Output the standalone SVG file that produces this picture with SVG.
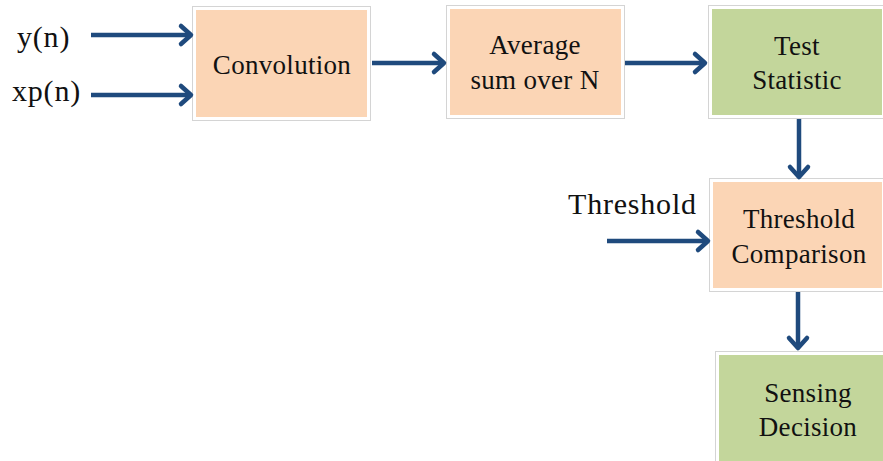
<svg xmlns="http://www.w3.org/2000/svg" width="883" height="461" viewBox="0 0 883 461">
<style>
.outer{fill:#ffffff;stroke:#d4d4d4;stroke-width:1}
.org{fill:#FBD5B5}
.grn{fill:#C3D69B}
.t{font-family:"Liberation Serif","Times New Roman",serif;font-size:27px;letter-spacing:0.3px;fill:#111;text-anchor:middle}
.lb{font-family:"Liberation Serif","Times New Roman",serif;font-size:30px;letter-spacing:0.8px;fill:#111}
.c{fill:none;stroke:#1F4A7D;stroke-width:4.5}
.h{fill:none;stroke:#1F4A7D;stroke-width:4.5;stroke-linecap:round;stroke-linejoin:round}
</style>
<rect width="883" height="461" fill="#ffffff"/>
<g id="conv">
<rect class="outer" x="192.5" y="6.5" width="178" height="114"/>
<rect class="org" x="196" y="10" width="171" height="107"/>
<text class="t" x="282" y="74">Convolution</text>
</g>
<g id="avg">
<rect class="outer" x="446.5" y="5.5" width="178" height="113"/>
<rect class="org" x="450" y="9" width="171" height="106"/>
<text class="t" x="535" y="54">Average</text>
<text class="t" x="535" y="89">sum over N</text>
</g>
<g id="test">
<rect class="outer" x="708.5" y="5.5" width="178" height="113"/>
<rect class="grn" x="712" y="9" width="170" height="106"/>
<text class="t" x="797" y="55">Test</text>
<text class="t" x="797" y="89">Statistic</text>
</g>
<g id="thr">
<rect class="outer" x="709.5" y="178.5" width="178" height="113"/>
<rect class="org" x="713" y="182" width="169" height="106"/>
<text class="t" x="799" y="228">Threshold</text>
<text class="t" x="799" y="263">Comparison</text>
</g>
<g id="sense">
<rect class="outer" x="715.5" y="351.5" width="178" height="120"/>
<rect class="grn" x="719" y="355" width="170" height="110"/>
<text class="t" x="808" y="402">Sensing</text>
<text class="t" x="808" y="436">Decision</text>
</g>
<g id="labels">
<text class="lb" x="17" y="47">y(n)</text>
<text class="lb" x="12" y="101">xp(n)</text>
<text class="lb" x="568" y="214">Threshold</text>
</g>
<g id="connectors">
<path class="c" d="M91,35 H190"/><path class="h" d="M181,26 L191,35 L181,44"/>
<path class="c" d="M91,95 H190"/><path class="h" d="M181,86 L191,95 L181,104"/>
<path class="c" d="M372,63 H443"/><path class="h" d="M434,54 L444,63 L434,72"/>
<path class="c" d="M625,63 H704"/><path class="h" d="M695,54 L705,63 L695,72"/>
<path class="c" d="M607,241 H707"/><path class="h" d="M698,232 L708,241 L698,250"/>
<path class="c" d="M799,119 V176"/><path class="h" d="M790,167 L799,177 L808,167"/>
<path class="c" d="M798,292 V347"/><path class="h" d="M789,338 L798,348 L807,338"/>
</g>
</svg>
